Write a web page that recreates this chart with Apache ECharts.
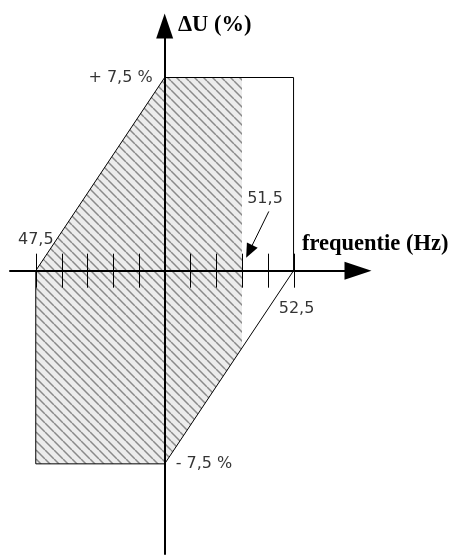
<!DOCTYPE html>
<html>
<head>
<meta charset="utf-8">
<script src="https://cdn.jsdelivr.net/npm/echarts@6/dist/echarts.min.js"></script>
<style>
html, body { margin: 0; padding: 0; background: #fff; }
#main { width: 450px; height: 555px; }
</style>
</head>
<body>
<div id="main"></div>
<script>
// frequency ticks on the Hz axis
var freqTicks = [47.5, 48, 48.5, 49, 49.5, 50, 50.5, 51, 51.5, 52, 52.5];
// outline of the allowed area (Hz, %)
var outlineFreq = [47.5, 50, 52.5, 52.5, 50, 47.5, 47.5];
var outlineVolt = [0, 7.5, 7.5, 0, -7.5, -7.5, 0];
// hatched part of the area (Hz, %)
var hatchFreq = [47.5, 50, 51.5, 51.5, 50, 47.5];
var hatchVolt = [0, 7.5, 7.5, -3, -7.5, -7.5];
// value labels
var freqLabels = ['47,5', '51,5', '52,5'];
var freqLabelValues = [47.5, 51.5, 52.5];
var voltLabels = ['+ 7,5 %', '- 7,5 %'];
var voltLabelValues = [7.5, -7.5];
// little arrow pointing at 51,5 (Hz, %)
var arrowFrom = [52.02, 2.3];
var arrowTo = [51.64, 0.75];

var gridLeft = 10, gridWidth = 348;
var xMin = 47, xMax = 53.75;
var yMin = -11, yMax = 9.5;
var yAxisShift = -(50 - xMin) / (xMax - xMin) * gridWidth;

var makeHatch = function () {
    var c = document.createElement('canvas');
    c.width = 9;
    c.height = 9;
    var ctx = c.getContext('2d');
    ctx.fillStyle = '#ececec';
    ctx.fillRect(0, 0, 9, 9);
    ctx.strokeStyle = '#8a8a8a';
    ctx.lineWidth = 1.5;
    ctx.beginPath();
    for (var k = -1; k <= 1; k++) {
        ctx.moveTo(k * 9, 0);
        ctx.lineTo(k * 9 + 9, 9);
    }
    ctx.stroke();
    return c;
};

var labelFont = { fontFamily: 'DejaVu Sans', fontSize: 16, color: '#000' };
var labelItem = function (value, text, label) {
    return {
        value: value,
        label: Object.assign({ show: true, position: 'inside', formatter: text }, labelFont, label)
    };
};

var myChart = echarts.init(document.getElementById('main'));
var option = {
    animation: false,
    grid: { left: gridLeft, width: gridWidth, top: 26, height: 528 },
    xAxis: {
        type: 'value',
        min: xMin,
        max: xMax,
        axisLine: {
            onZero: true,
            symbol: ['none', 'triangle'],
            symbolSize: [18, 27],
            lineStyle: { color: '#000', width: 2 }
        },
        axisTick: { show: false },
        axisLabel: { show: false },
        splitLine: { show: false }
    },
    yAxis: {
        type: 'value',
        min: yMin,
        max: yMax,
        offset: yAxisShift,
        axisLine: {
            onZero: false,
            symbol: ['none', 'triangle'],
            symbolSize: [17, 25],
            lineStyle: { color: '#000', width: 2 }
        },
        axisTick: { show: false },
        axisLabel: { show: false },
        splitLine: { show: false }
    },
    graphic: [
        { type: 'text', x: 178, y: 25.5, style: { text: 'ΔU (%)', font: 'bold 22.5px "Liberation Serif"', fill: '#000', verticalAlign: 'middle' } },
        { type: 'text', x: 302, y: 244, style: { text: 'frequentie (Hz)', font: 'bold 22.5px "Liberation Serif"', fill: '#000', verticalAlign: 'middle' } }
    ],
    series: [{
        name: 'hatch',
        type: 'custom',
        z: -1,
        silent: true,
        data: [[0]],
        renderItem: function (params, api) {
            var pts = hatchFreq.map(function (f, i) { return api.coord([f, hatchVolt[i]]); });
            return {
                type: 'polygon',
                shape: { points: pts },
                style: { fill: { image: makeHatch(), repeat: 'repeat' }, stroke: null }
            };
        }
    }, {
        name: 'outline',
        type: 'line',
        z: 3,
        silent: true,
        symbol: 'none',
        lineStyle: { color: '#000', width: 1 },
        data: outlineFreq.map(function (f, i) { return [f, outlineVolt[i]]; })
    }, {
        name: 'ticks',
        type: 'custom',
        z: 3,
        silent: true,
        data: freqTicks.map(function (f) { return [f, 0]; }),
        renderItem: function (params, api) {
            var p = api.coord([api.value(0), api.value(1)]);
            var x = Math.round(p[0]) + 0.5;
            return {
                type: 'line',
                shape: { x1: x, y1: p[1] - 17, x2: x, y2: p[1] + 17 },
                style: { stroke: '#000', lineWidth: 1 }
            };
        }
    }, {
        name: 'labels',
        type: 'scatter',
        z: 4,
        silent: true,
        symbolSize: 0,
        data: [
            labelItem([freqLabelValues[0], 0], freqLabels[0], { offset: [0, -31] }),
            labelItem([freqLabelValues[1], 0], freqLabels[1], { offset: [23, -72] }),
            labelItem([freqLabelValues[2], 0], freqLabels[2], { offset: [3, 38] }),
            labelItem([50, voltLabelValues[0]], voltLabels[0], { align: 'right', offset: [-12, 0] }),
            labelItem([50, voltLabelValues[1]], voltLabels[1], { align: 'left', offset: [11, 0] })
        ],
        markLine: {
            silent: true,
            symbol: ['none', 'triangle'],
            symbolSize: [12, 14],
            label: { show: false },
            lineStyle: { color: '#000', width: 1, type: 'solid' },
            data: [[{ coord: arrowFrom }, { coord: arrowTo }]]
        }
    }]
};
myChart.setOption(option);
</script>
</body>
</html>
